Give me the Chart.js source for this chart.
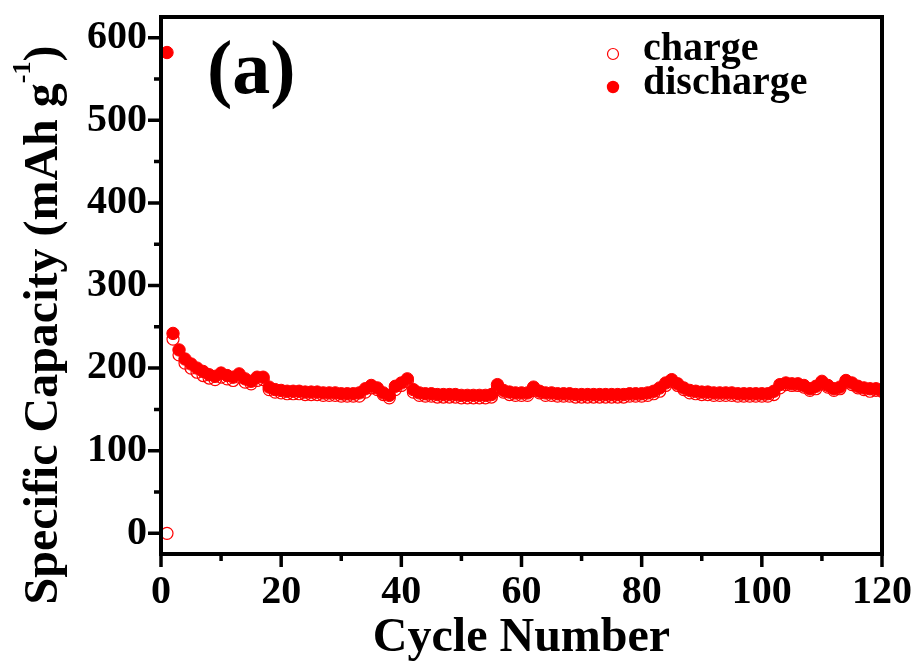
<!DOCTYPE html>
<html>
<head>
<meta charset="utf-8">
<script src="https://cdn.jsdelivr.net/npm/chart.js@4/dist/chart.umd.min.js"></script>
<style>
  html, body { margin: 0; padding: 0; background: #fff; }
  canvas { display: block; }
</style>
</head>
<body>
<canvas id="cap" width="920" height="664"></canvas>
<script>
"use strict";

// cycle data
const cycles = [
  1, 2, 3, 4, 5, 6, 7, 8, 9, 10, 11, 12, 13, 14, 15, 16, 17, 18, 19, 20,
  21, 22, 23, 24, 25, 26, 27, 28, 29, 30, 31, 32, 33, 34, 35, 36, 37, 38, 39, 40,
  41, 42, 43, 44, 45, 46, 47, 48, 49, 50, 51, 52, 53, 54, 55, 56, 57, 58, 59, 60,
  61, 62, 63, 64, 65, 66, 67, 68, 69, 70, 71, 72, 73, 74, 75, 76, 77, 78, 79, 80,
  81, 82, 83, 84, 85, 86, 87, 88, 89, 90, 91, 92, 93, 94, 95, 96, 97, 98, 99, 100,
  101, 102, 103, 104, 105, 106, 107, 108, 109, 110, 111, 112, 113, 114, 115, 116, 117, 118, 119, 120,
];
const discharge = [
  582, 242, 222, 211, 205, 200, 196, 192, 190, 194, 191, 189, 193, 187, 184, 189, 189, 177, 174, 173,
  172, 172, 172, 171, 171, 171, 170, 170, 170, 169, 169, 169, 170, 175, 179, 176, 170, 167, 178, 182,
  187, 174, 170, 169, 169, 168, 168, 168, 168, 167, 167, 167, 167, 167, 168, 180, 173, 171, 170, 170,
  170, 177, 172, 170, 170, 169, 169, 169, 168, 168, 168, 168, 168, 168, 168, 168, 168, 169, 169, 169,
  170, 172, 176, 182, 186, 181, 176, 173, 172, 171, 171, 170, 170, 170, 170, 169, 169, 169, 169, 169,
  169, 172, 180, 182, 181, 181, 179, 175, 178, 184, 179, 175, 177, 185, 182, 178, 176, 175, 175, 174,
];
const charge = [
  0, 235, 216, 206, 200, 195, 191, 188, 186, 189, 187, 185, 189, 183, 181, 185, 186, 174, 171, 170,
  169, 169, 169, 168, 168, 168, 167, 167, 167, 166, 166, 166, 166, 171, 176, 174, 168, 164, 174, 179,
  184, 171, 167, 166, 166, 165, 165, 165, 165, 164, 164, 164, 164, 164, 165, 176, 171, 168, 167, 167,
  167, 173, 170, 167, 167, 166, 166, 166, 165, 165, 165, 165, 165, 165, 165, 165, 165, 166, 166, 166,
  167, 169, 172, 179, 184, 179, 174, 170, 169, 168, 168, 167, 167, 167, 167, 166, 166, 166, 166, 166,
  166, 168, 176, 180, 179, 179, 177, 173, 175, 182, 177, 173, 175, 183, 180, 176, 174, 172, 173, 172,
];

const xTicks = [0, 20, 40, 60, 80, 100, 120];
const xMinor = [10, 30, 50, 70, 90, 110];
const yTicks = [0, 100, 200, 300, 400, 500, 600];
const yMinor = [50, 150, 250, 350, 450, 550];

const SERIF = "'Liberation Serif', 'Times New Roman', serif";
const RED = "#ff0000";

const toPts = (ys) => cycles.map((c, i) => ({ x: c, y: ys[i] }));

// frame, outward ticks, titles, panel tag and legend
const decor = {
  id: "decor",
  afterDraw(chart) {
    const { ctx, chartArea: a, scales } = chart;
    ctx.save();
    ctx.strokeStyle = "#000";
    ctx.lineWidth = 4;
    ctx.strokeRect(a.left, a.top, a.right - a.left, a.bottom - a.top);

    ctx.lineWidth = 3.5;
    ctx.beginPath();
    for (const v of xTicks) { const p = scales.x.getPixelForValue(v); ctx.moveTo(p, a.bottom); ctx.lineTo(p, a.bottom + 13); }
    for (const v of xMinor) { const p = scales.x.getPixelForValue(v); ctx.moveTo(p, a.bottom); ctx.lineTo(p, a.bottom + 7); }
    for (const v of yTicks) { const p = scales.y.getPixelForValue(v); ctx.moveTo(a.left, p); ctx.lineTo(a.left - 13, p); }
    for (const v of yMinor) { const p = scales.y.getPixelForValue(v); ctx.moveTo(a.left, p); ctx.lineTo(a.left - 7, p); }
    ctx.stroke();

    ctx.fillStyle = "#000";
    ctx.textBaseline = "alphabetic";

    // x title
    ctx.font = `bold 48px ${SERIF}`;
    ctx.textAlign = "center";
    ctx.fillText("Cycle Number", (a.left + a.right) / 2, 651);

    // y title with superscript
    ctx.save();
    ctx.translate(57, 325);
    ctx.rotate(-Math.PI / 2);
    ctx.textAlign = "left";
    const big = `bold 48px ${SERIF}`, small = `bold 26px ${SERIF}`;
    const p1 = "Specific Capacity (mAh g", p2 = "-1", p3 = ")";
    ctx.font = big; const w1 = ctx.measureText(p1).width, w3 = ctx.measureText(p3).width;
    ctx.font = small; const w2 = ctx.measureText(p2).width;
    let x = -(w1 + w2 + w3) / 2;
    ctx.font = big; ctx.fillText(p1, x, 0); x += w1;
    ctx.font = small; ctx.fillText(p2, x, -27); x += w2;
    ctx.font = big; ctx.fillText(p3, x, 0);
    ctx.restore();

    // panel tag
    ctx.font = `bold 76px ${SERIF}`;
    ctx.textAlign = "left";
    ctx.fillText("(a)", 207, 93);

    // legend
    ctx.font = `bold 40px ${SERIF}`;
    ctx.fillText("charge", 643, 60);
    ctx.fillText("discharge", 643, 94);
    ctx.beginPath();
    ctx.arc(613, 54, 5.5, 0, Math.PI * 2);
    ctx.strokeStyle = RED; ctx.lineWidth = 1.2; ctx.stroke();
    ctx.beginPath();
    ctx.arc(613, 87, 6.2, 0, Math.PI * 2);
    ctx.fillStyle = RED; ctx.fill();
    ctx.restore();
  },
};

new Chart(document.getElementById("cap"), {
  type: "scatter",
  data: {
    datasets: [
      { label: "charge", data: toPts(charge), order: 2,
        pointStyle: "circle", pointRadius: 6, borderWidth: 1.2,
        borderColor: RED, backgroundColor: "rgba(255,255,255,0)" },
      { label: "discharge", data: toPts(discharge), order: 1,
        pointStyle: "circle", pointRadius: 6.2, borderWidth: 1,
        borderColor: RED, backgroundColor: RED },
    ],
  },
  options: {
    responsive: false, animation: false,
    layout: { padding: { top: 17, right: 38, left: 0, bottom: 0 } },
    plugins: { legend: { display: false }, tooltip: { enabled: false } },
    scales: {
      x: {
        type: "linear", min: 0, max: 120,
        grid: { display: false, drawTicks: false }, border: { display: false },
        ticks: { color: "#000", padding: 15, font: { family: SERIF, size: 40, weight: "bold" }, maxRotation: 0 },
        afterBuildTicks: (s) => { s.ticks = xTicks.map((v) => ({ value: v })); },
        afterFit: (s) => { s.height = 110; s.paddingLeft = 0; s.paddingRight = 0; },
      },
      y: {
        type: "linear", min: -25, max: 625,
        grid: { display: false, drawTicks: false }, border: { display: false },
        ticks: { color: "#000", padding: 14, font: { family: SERIF, size: 40, weight: "bold" } },
        afterBuildTicks: (s) => { s.ticks = yTicks.map((v) => ({ value: v })); },
        afterFit: (s) => { s.width = 161; s.paddingTop = 0; s.paddingBottom = 0; },
      },
    },
  },
  plugins: [decor],
});
</script>
</body>
</html>
